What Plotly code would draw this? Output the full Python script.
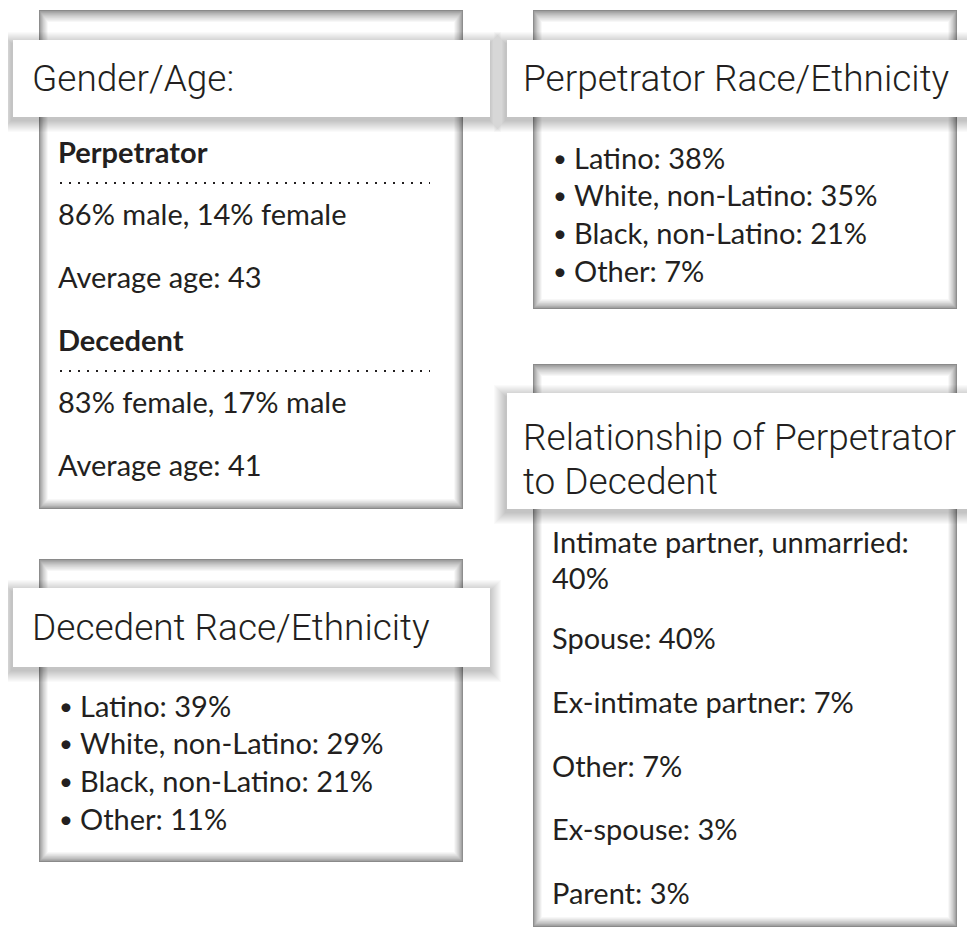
import plotly.graph_objects as go

# ---------------- data ----------------
gender_groups = ["Perpetrator", "Decedent"]
gender_split = ["86% male, 14% female", "83% female, 17% male"]
average_age = [43, 41]

race_labels = ["Latino", "White, non-Latino", "Black, non-Latino", "Other"]
perpetrator_race_pct = [38, 35, 21, 7]
decedent_race_pct = [39, 29, 21, 11]

relationship_labels = ["Intimate partner, unmarried", "Spouse", "Ex-intimate partner",
                       "Other", "Ex-spouse", "Parent"]
relationship_pct = [40, 40, 7, 7, 3, 3]

card_titles = [["Gender/Age:"], ["Perpetrator Race/Ethnicity"], ["Decedent Race/Ethnicity"],
               ["Relationship of Perpetrator", "to Decedent"]]

# ---------------- layout geometry (pixels) ----------------
W, H = 975, 929
OFF = 8  # default page body margin
TXT = "#231f20"
HEAD_FONT = dict(family="Roboto, Liberation Sans, Arial", size=37, color=TXT, weight=300)
BODY_FONT = dict(family="Lato, Carlito, Open Sans, sans-serif", size=29, color=TXT)
BOLD_FONT = dict(family="Lato, Carlito, Open Sans, sans-serif", size=29, color=TXT, weight=700)
BULLET_FONT = dict(family="Lato, Carlito, Open Sans, sans-serif", size=24, color=TXT)

cards = [
    dict(box=(39, 463, 10, 509), head=(13, 490, 40, 117), tx=31, ty=[78]),
    dict(box=(533, 957, 10, 309), head=(507, 995, 40, 117), tx=522, ty=[78]),
    dict(box=(39, 463, 559, 862), head=(13, 490, 588, 667), tx=31, ty=[627]),
    dict(box=(533, 957, 364, 927), head=(507, 995, 393, 509), tx=522, ty=[437, 481]),
]

shapes = []
annotations = []


def rect(x0, y0, x1, y1, fill):
    return dict(type="rect", xref="x", yref="y", x0=x0, x1=x1, y0=y0, y1=y1,
                fillcolor=fill, line=dict(width=0), layer="above")


def inset_card(x0, x1, y0, y1):
    n = 12
    for i in range(n):
        t = i / (n - 1)
        g = int(138 + (255 - 138) * t ** 0.7)
        shapes.append(rect(x0 + i * 0.8, y0 + i * 1.1, x1 - i * 0.8, y1 - i * 0.9, f"rgb({g},{g},{g})"))


def header(x0, x1, y0, y1):
    for k in range(12, 0, -1):
        shapes.append(rect(x0 - k - 1, y0 - k + 4, x1 + k - 1, y1 + k + 3, "rgba(0,0,0,0.02)"))
    shapes.append(rect(x0, y0, x1, y1, "white"))


def text(x, y, s, font):
    annotations.append(dict(x=x, y=y, xref="x", yref="y", text=s, showarrow=False,
                            xanchor="left", yanchor="middle", font=font, borderpad=0))


for c in cards:
    inset_card(*c["box"])
for c, title in zip(cards, card_titles):
    header(*c["head"])
    for line, y in zip(title, c["ty"]):
        text(c["tx"], y, line, HEAD_FONT)

# Card 1: Gender / Age
x1 = cards[0]["box"][0] + 18
for i, (grp, split, age) in enumerate(zip(gender_groups, gender_split, average_age)):
    base = 151 + i * 188
    text(x1, base, f"<b>{grp}</b>", BOLD_FONT)
    shapes.append(dict(type="line", xref="x", yref="y", x0=x1 + 3, x1=430, y0=base + 32, y1=base + 32,
                       line=dict(color=TXT, width=2, dash="2px,7px"), layer="above"))
    text(x1, base + 62, split, BODY_FONT)
    text(x1, base + 125, f"Average age: {age}", BODY_FONT)

# Card 2 & 3: race bullets
for card, pcts, y0 in [(cards[1], perpetrator_race_pct, 157), (cards[2], decedent_race_pct, 705)]:
    bx = card["box"][0]
    for i, (lab, p) in enumerate(zip(race_labels, pcts)):
        y = y0 + i * 37.7
        text(bx + 19, y, "•", BULLET_FONT)
        text(bx + 40, y, f"{lab}: {p}%", BODY_FONT)

# Card 4: relationship
rx = cards[3]["box"][0] + 18
ys = [541, 637, 701, 765, 828, 892]
for i, (lab, p) in enumerate(zip(relationship_labels, relationship_pct)):
    if i == 0:
        text(rx, ys[0], f"{lab}:", BODY_FONT)
        text(rx, ys[0] + 36, f"{p}%", BODY_FONT)
    else:
        text(rx, ys[i], f"{lab}: {p}%", BODY_FONT)

fig = go.Figure()
fig.update_layout(
    width=W - OFF, height=H - OFF,
    margin=dict(l=0, r=0, t=0, b=0),
    paper_bgcolor="white", plot_bgcolor="white",
    xaxis=dict(range=[OFF, W], visible=False, fixedrange=True),
    yaxis=dict(range=[H, OFF], visible=False, fixedrange=True),
    shapes=shapes, annotations=annotations, showlegend=False,
)
fig.write_html("out.html")
